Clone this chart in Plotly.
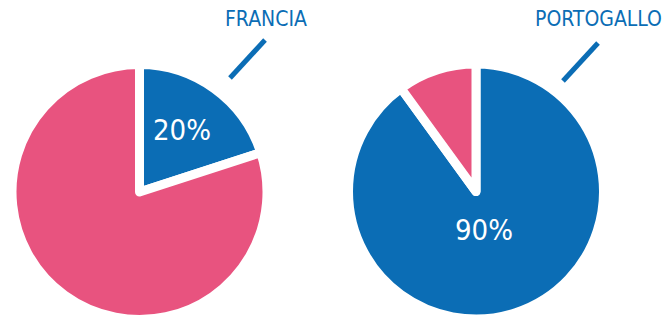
import plotly.graph_objects as go

countries = ["FRANCIA", "PORTOGALLO"]
shares = [20, 90]          # % blue slice
others = [80, 10]          # % pink slice
slice_labels = ["Sì", "No"]

BLUE = "#0b6db5"
PINK = "#e8537f"
W, H = 664, 326
FONT = "Liberation Sans Narrow, DejaVu Sans Condensed, Roboto Condensed, Roboto, sans-serif"

# pie geometry in pixels (center x, center y, radius)
geom = [(139.5, 192, 127.5), (476, 191.5, 127.5)]
text_pos = [(182, 130), (484, 230)]
label_pos = [(266, 19), (598, 19)]
leaders = [((230, 78), (265, 40)), ((563, 81), (598, 43))]

fig = go.Figure()
for i, c in enumerate(countries):
    cx, cy, r = geom[i]
    fig.add_trace(go.Pie(
        labels=slice_labels, values=[shares[i], others[i]],
        sort=False, direction="clockwise", rotation=0,
        marker=dict(colors=[BLUE, PINK], line=dict(color="white", width=9)),
        textinfo="none", hoverinfo="skip", showlegend=False,
        domain=dict(x=[(cx - r) / W, (cx + r) / W],
                    y=[(H - cy - r) / H, (H - cy + r) / H]),
    ))
    tx, ty = text_pos[i]
    fig.add_annotation(x=tx / W, y=1 - ty / H, xref="paper", yref="paper",
                       xanchor="center", yanchor="middle",
                       text=f"{shares[i]}%", showarrow=False,
                       font=dict(family=FONT, size=29, color="white", weight=300))
    lx, ly = label_pos[i]
    fig.add_annotation(x=lx / W, y=1 - ly / H, xref="paper", yref="paper",
                       xanchor="center", yanchor="middle",
                       text=c, showarrow=False,
                       font=dict(family=FONT, size=21, color=BLUE, weight=300))
    (x0, y0), (x1, y1) = leaders[i]
    fig.add_shape(type="line", xref="paper", yref="paper",
                  x0=x0 / W, y0=1 - y0 / H, x1=x1 / W, y1=1 - y1 / H,
                  line=dict(color=BLUE, width=5))

fig.update_layout(width=W, height=H, margin=dict(l=0, r=0, t=0, b=0),
                  paper_bgcolor="white", plot_bgcolor="white")
fig.write_html("out.html")
